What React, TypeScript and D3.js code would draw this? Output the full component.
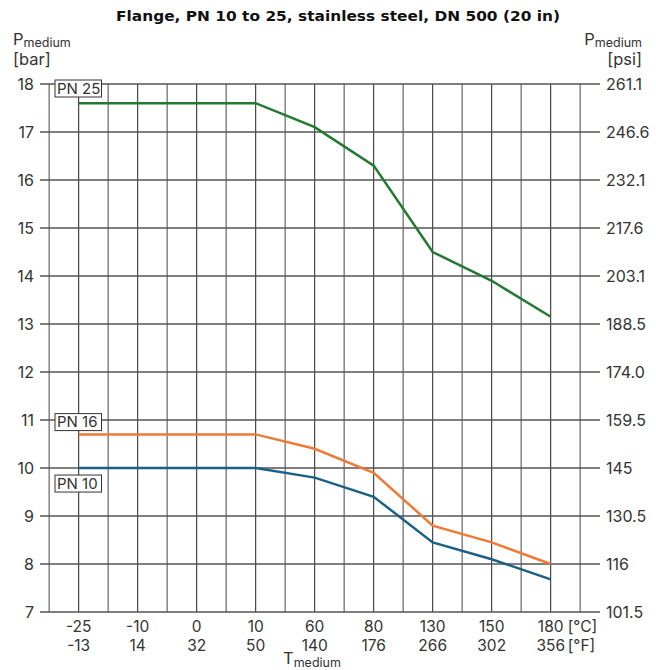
import React from "react";
import * as d3 from "d3";

const categoriesC = ["-25", "-10", "0", "10", "60", "80", "130", "150", "180"];
const categoriesF = ["-13", "14", "32", "50", "140", "176", "266", "302", "356"];
const pn25 = [17.6, 17.6, 17.6, 17.6, 17.1, 16.3, 14.5, 13.9, 13.15];
const pn16 = [10.7, 10.7, 10.7, 10.7, 10.4, 9.9, 8.8, 8.45, 8.0];
const pn10 = [10.0, 10.0, 10.0, 10.0, 9.8, 9.4, 8.45, 8.1, 7.68];
const barTicks = [7, 8, 9, 10, 11, 12, 13, 14, 15, 16, 17, 18];
const psiTicks = ["101.5", "116", "130.5", "145", "159.5", "174.0", "188.5", "203.1", "217.6", "232.1", "246.6", "261.1"];

const series = [
  { name: "PN 25", values: pn25, color: "#217a31", labelY: 18 },
  { name: "PN 16", values: pn16, color: "#ef7a35", labelY: 11.05 },
  { name: "PN 10", values: pn10, color: "#1b6088", labelY: 9.77 },
];

const FONT = "Inter, 'Open Sans', sans-serif";
const TXT = "#333";

export default function App() {
  const W = 656, H = 670;
  const x = d3.scalePoint<string>().domain(categoriesC).range([78.7, 550.7]);
  const step = x.step();
  const y = d3.scaleLinear().domain([7, 18]).range([612, 84]);

  const gridX: { x: number; major: boolean }[] = [];
  categoriesC.forEach((c, i) => {
    const cx = x(c)!;
    gridX.push({ x: cx - step / 2, major: false });
    gridX.push({ x: cx, major: true });
    if (i === categoriesC.length - 1) gridX.push({ x: cx + step / 2, major: false });
  });

  const line = d3
    .line<number>()
    .x((_, i) => x(categoriesC[i])!)
    .y((d) => y(d));

  return (
    <svg width={W} height={H} style={{ position: "absolute", left: 0, top: 0, background: "#fff" }} fontFamily={FONT}>
      <text x={116} y={21} fontSize={14.5} fontWeight="bold" fill="#111" fontFamily="'DejaVu Sans', sans-serif" textLength={444} lengthAdjust="spacingAndGlyphs">
        Flange, PN 10 to 25, stainless steel, DN 500 (20 in)
      </text>
      {/* left axis title */}
      <text x={13} y={45} fontSize={16.5} fill={TXT}>
        P<tspan fontSize={12.5} dy={1.5}>medium</tspan>
      </text>
      <text x={13} y={65} fontSize={16.5} fill={TXT}>[bar]</text>
      {/* right axis title */}
      <text x={642} y={45} fontSize={16.5} fill={TXT} textAnchor="end">
        P<tspan fontSize={12.5} dy={1.5}>medium</tspan>
      </text>
      <text x={642} y={65} fontSize={16.5} fill={TXT} textAnchor="end">[psi]</text>

      {/* vertical grid */}
      {gridX.map((g, i) => (
        <line
          key={"v" + i}
          x1={g.x}
          x2={g.x}
          y1={y(18)}
          y2={y(7)}
          stroke={g.major ? "#222" : "#8a8a8a"}
          strokeWidth={g.major ? 1 : 1.6}
        />
      ))}
      {/* horizontal grid */}
      {barTicks.map((t) => (
        <line key={"h" + t} x1={40} x2={600} y1={y(t)} y2={y(t)} stroke="#555" strokeWidth={1.5} />
      ))}
      {/* left labels */}
      {barTicks.map((t) => (
        <text key={"l" + t} x={34} y={y(t) + 6} textAnchor="end" fontSize={16} fill={TXT}>
          {t}
        </text>
      ))}
      {/* right labels */}
      {barTicks.map((t, i) => (
        <text key={"r" + t} x={606} y={y(t) + 6} textAnchor="start" fontSize={16} fill={TXT}>
          {psiTicks[i]}
        </text>
      ))}
      {/* bottom labels */}
      {categoriesC.map((c, i) => (
        <g key={"b" + c}>
          <text x={x(c)!} y={632} textAnchor="middle" fontSize={15.5} fill={TXT}>{c}</text>
          <text x={x(c)!} y={651} textAnchor="middle" fontSize={15.5} fill={TXT}>{categoriesF[i]}</text>
        </g>
      ))}
      <text x={x(categoriesC[8])! + 17} y={632} fontSize={15.5} fill={TXT}>[°C]</text>
      <text x={x(categoriesC[8])! + 17} y={651} fontSize={15.5} fill={TXT}>[°F]</text>
      <text x={283} y={664} fontSize={16.5} fill={TXT}>
        T<tspan fontSize={12.5} dy={3}>medium</tspan>
      </text>

      {/* series lines */}
      {series.map((s) => (
        <path key={s.name} d={line(s.values)!} fill="none" stroke={s.color} strokeWidth={2.5} />
      ))}

      {/* PN labels */}
      {series.map((s) => {
        const cy = y(s.labelY);
        return (
          <g key={"lab" + s.name}>
            <rect x={55} y={cy - 4} width={46.5} height={17} fill="#fff" stroke="#333" strokeWidth={1} />
            <text x={57} y={cy + 9.5} fontSize={15} fill={TXT}>{s.name}</text>
          </g>
        );
      })}
    </svg>
  );
}
